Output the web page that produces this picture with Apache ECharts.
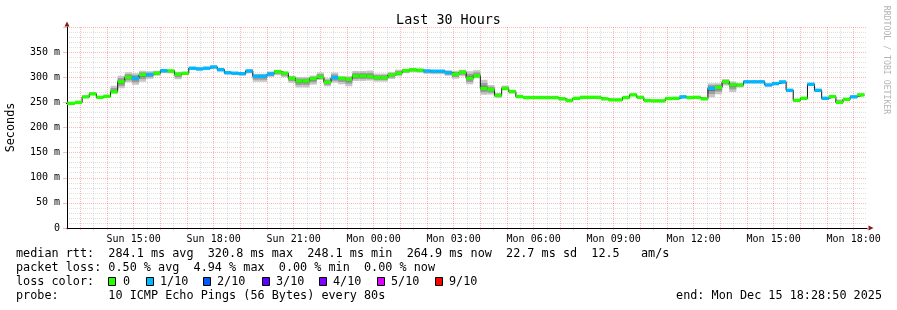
<!DOCTYPE html>
<html><head><meta charset="utf-8">
<script src="https://cdn.jsdelivr.net/npm/echarts@6/dist/echarts.min.js"></script>
<style>html,body{margin:0;padding:0;background:#fff}#c{width:897px;height:310px}</style>
</head><body><div id="c"></div>
<script>
// ---------- data ----------
const chartTitle = 'Last 30 Hours';
const yAxisName = 'Seconds';
const xMinHour = 12.5;   // hours since Sun 00:00 (Sun 12:30)
const xMaxHour = 42.5;   // Mon 18:30
const stepOriginHour = 12;   // RRD steps are 16 min long, aligned to 12:00
const stepMinutes = 16;
const firstStepIndex = 1;

// median RTT (ms) per 16-minute step
const medianMs = [
  248, 248, 250, 261, 267, 260, 262, 271, 291, 300,
  298, 305, 305, 308, 313, 312.6, 306, 308, 318, 316.6,
  318, 320.5, 315, 309, 308, 307, 312.5, 302, 302, 306.6,
  311, 308, 298, 292.7, 292.7, 297.3, 300.7, 290, 299.3, 298,
  296, 302.6, 302.6, 301.3, 299.3, 299.3, 304.6, 308, 313, 315,
  314, 312.6, 312, 312, 309, 306, 310, 298, 303, 278,
  275.5, 264, 277.5, 271.5, 261.5, 259.6, 259.6, 259.6, 259.6, 259.6,
  257, 253.6, 258, 260, 260, 260, 257, 255, 255, 259.6,
  265, 260, 253.6, 253, 253, 257.6, 258, 261, 259.6, 260,
  257, 278, 280, 291.4, 284.7, 284.7, 291, 291, 291, 284.7,
  287.4, 290.7, 274, 254, 258, 286, 274, 258, 261.5, 250,
  256, 261, 264.9
];
// loss colour index per step (0 = no loss, 1 = 1/10)
const lossLevel = [
  0,0,0,0,0,0,0,0,0,0,
  1,0,1,0,1,0,0,0,1,1,
  1,1,1,1,1,1,1,1,1,1,
  0,0,0,0,0,0,0,0,1,0,
  0,0,0,0,0,0,0,0,0,0,
  0,1,1,1,1,0,0,0,0,0,
  0,0,0,0,0,0,0,0,0,0,
  0,0,0,0,0,0,0,0,0,0,
  0,0,0,0,0,0,0,1,0,0,
  0,1,0,0,0,0,1,1,1,1,
  1,1,1,0,0,1,1,1,0,0,
  0,1,0
];
// smoke spread above / below the median (ms)
const smokeUpMs = [
  1.5,1.5,1.5,2,3,2,2,12,12,10,
  10,8,7,5,3,2,5,2,2,2,
  2,2,2,2,2,2,3,5,5,5,
  4,3,5,8,8,6,9,8,10,4,
  6,10,10,12,8,8,6,7,4,3,
  3,2,2,2,5,7,5,14,11,17,
  9,5,6,3,2,1.5,1.5,1.5,1.5,1.5,
  2,2,2,2,2,2,2,2,2,2,
  2,2,3,2,2,2,2,2,2,2,
  2,10,8,5,7,3,1.5,1.5,1.5,2,
  2,2,2,2,2,2,2,3,2,6,
  2,2,2
];
const smokeDownMs = [
  1.5,1.5,1.5,2,2,2,2,3,13,10,
  13,14,8,5,5,5,10,3,3,3,
  2,3,3,3,3,3,5,11,11,6,
  7,8,9,13,13,12,6,8,10,12,
  14,10,10,8,8,8,8,6,5,5,
  5,6,6,6,6,9,8,12,5,13,
  10,5,3,4,2,1.5,1.5,1.5,1.5,1.5,
  2,2,2,2,2,2,2,2,2,2,
  2,2,2,2,2,2,2,2,2,2,
  2,18,14,8,14,5,3,3,3,3,
  3,3,3,2,2,3,3,3,2,2,
  2,2,2
];
const yTickValues = [0, 50, 100, 150, 200, 250, 300, 350];
const lossLabels = ['0', '1/10', '2/10', '3/10', '4/10', '5/10', '9/10'];
const lossColors = ['#26ff00', '#00b8ff', '#0059ff', '#5e00ff', '#7e00ff', '#dd00ff', '#ff0000'];
const rttValues = ['284.1', '320.8', '248.1', '264.9', '22.7', '12.5'];
const rttUnits  = ['ms avg', 'ms max', 'ms min', 'ms now', 'ms sd', '  am/s'];
const lossValues = ['0.50', '4.94', '0.00', '0.00'];
const lossUnits  = ['% avg', '% max', '% min', '% now'];
const probeText = '10 ICMP Echo Pings (56 Bytes) every 80s';
const endText = 'Mon Dec 15 18:28:50 2025';
const watermark = 'RRDTOOL / TOBI OETIKER';

// ---------- chart ----------
const MONO = '"DejaVu Sans Mono", monospace';
const steps = medianMs.map((v, i) => {
  const t0 = stepOriginHour + (firstStepIndex + i) * stepMinutes / 60;
  return [t0, t0 + stepMinutes / 60, v, smokeUpMs[i], smokeDownMs[i], lossLevel[i]];
});
const lineData = steps.map(s => [s[0], s[2]]);
lineData.push([steps[steps.length - 1][1], steps[steps.length - 1][2]]);

function clip(rect, cs) {
  return echarts.graphic.clipRectByRect(rect, {x: cs.x, y: cs.y, width: cs.width, height: cs.height});
}
function smokeLayer(frac, color, z) {
  return {
    type: 'custom', data: steps, encode: {x: [0, 1], y: 2}, silent: true, z: z,
    renderItem(params, api) {
      const v = api.value(2);
      const a = api.coord([api.value(0), v + api.value(3) * frac]);
      const b = api.coord([api.value(1), v - api.value(4) * frac]);
      const shape = clip({x: a[0], y: a[1], width: b[0] - a[0], height: b[1] - a[1]}, params.coordSys);
      return shape ? {type: 'rect', shape: shape, style: {fill: color}} : null;
    }
  };
}
const lossBars = {
  type: 'custom', data: steps, encode: {x: [0, 1], y: 2}, silent: true, z: 6,
  renderItem(params, api) {
    const a = api.coord([api.value(0), api.value(2)]);
    const b = api.coord([api.value(1), api.value(2)]);
    const h = 3.4;
    const shape = clip({x: a[0], y: a[1] - h / 2, width: b[0] - a[0], height: h}, params.coordSys);
    return shape ? {type: 'rect', shape: shape, style: {fill: lossColors[api.value(5)]}} : null;
  }
};

function xLabel(v) {
  const r = Math.round(v);
  if (Math.abs(v - r) > 1e-6 || r % 3 !== 0) return '';
  const day = r < 24 ? 'Sun' : 'Mon';
  const hh = String(r % 24).padStart(2, '0');
  return day + ' ' + hh + ':00';
}
function yLabel(v) {
  if (yTickValues.indexOf(v) < 0) return '';
  return v === 0 ? '0' : v + ' m';
}

const majorGrid = 'rgba(255,0,0,0.28)';
const minorGrid = 'rgba(120,120,120,0.24)';
const arrowColor = '#8b1a1a';

const rttLine = 'median rtt:  ' + rttValues.map((v, i) => v + ' ' + rttUnits[i]).join('  ');
const lossLine = 'packet loss: ' + lossValues.map((v, i) => v + ' ' + lossUnits[i]).join('  ');
const probeLine = 'probe:       ' + probeText;

const textX = 16;
const rowY = [254, 268, 282, 296];
const boxX = [108, 146, 203, 262, 319, 377, 435];
const boxTextX = [123, 160, 217, 276, 333, 391, 449];
const fs = 11.8;
const graphics = [
  {type: 'text', x: textX, y: rowY[0], style: {text: rttLine, fontFamily: MONO, fontSize: fs, fill: '#000', verticalAlign: 'middle'}},
  {type: 'text', x: textX, y: rowY[1], style: {text: lossLine, fontFamily: MONO, fontSize: fs, fill: '#000', verticalAlign: 'middle'}},
  {type: 'text', x: textX, y: rowY[2], style: {text: 'loss color:', fontFamily: MONO, fontSize: fs, fill: '#000', verticalAlign: 'middle'}},
  {type: 'text', x: textX, y: rowY[3], style: {text: probeLine, fontFamily: MONO, fontSize: fs, fill: '#000', verticalAlign: 'middle'}},
  {type: 'text', x: 882, y: rowY[3], style: {text: 'end: ' + endText, fontFamily: MONO, fontSize: fs, fill: '#000', align: 'right', verticalAlign: 'middle'}},
  {type: 'text', x: 886, y: 60, rotation: -Math.PI / 2, style: {text: watermark, fontFamily: MONO, fontSize: 8.2, fill: '#b4b4b4', align: 'center', verticalAlign: 'middle'}}
];
lossLabels.forEach((lab, i) => {
  graphics.push({type: 'rect', shape: {x: boxX[i] + 0.5, y: rowY[2] - 4.5, width: 7, height: 8},
    style: {fill: lossColors[i], stroke: '#000', lineWidth: 1}});
  graphics.push({type: 'text', x: boxTextX[i], y: rowY[2], style: {text: lab, fontFamily: MONO, fontSize: fs, fill: '#000', verticalAlign: 'middle'}});
});

const option = {
  animation: false,
  backgroundColor: '#fff',
  title: {text: chartTitle, left: 'center', top: 14, padding: 0,
    textStyle: {fontFamily: MONO, fontSize: 13.4, fontWeight: 'normal', color: '#000'}},
  grid: {left: 67, right: 30, top: 27, bottom: 82, containLabel: false, outerBoundsMode: 'none'},
  xAxis: [{
    type: 'value', min: xMinHour, max: xMaxHour, interval: 0.5, position: 'bottom',
    axisLine: {show: true, onZero: false, lineStyle: {color: '#000', width: 1}},
    axisTick: {show: true, length: 2, lineStyle: {color: majorGrid}},
    axisLabel: {show: true, interval: 0, formatter: xLabel, fontFamily: MONO, fontSize: 10, color: '#000', margin: 6},
    splitLine: {show: true, showMinLine: false, showMaxLine: false,
      lineStyle: {color: [majorGrid, minorGrid], type: [1, 1], width: 1}}
  }, {
    type: 'value', min: xMinHour, max: xMaxHour, position: 'bottom',
    axisLine: {show: true, onZero: false, symbol: ['none', 'triangle'], symbolSize: [5, 5], symbolOffset: [0, 4],
      lineStyle: {color: arrowColor, width: 0}},
    axisTick: {show: false}, axisLabel: {show: false}, splitLine: {show: false}
  }],
  yAxis: [{
    type: 'value', min: 0, max: 400, interval: 50, position: 'left',
    name: yAxisName, nameLocation: 'middle', nameGap: 50, nameRotate: 90,
    nameTextStyle: {fontFamily: MONO, fontSize: 11.8, color: '#000'},
    axisLine: {show: true, onZero: false, lineStyle: {color: '#000', width: 1}},
    axisTick: {show: true, length: 4, lineStyle: {color: majorGrid}},
    axisLabel: {formatter: yLabel, fontFamily: MONO, fontSize: 10, color: '#000', margin: 7},
    splitLine: {show: true, lineStyle: {color: majorGrid, type: [1, 1], width: 1}},
    minorTick: {show: false, splitNumber: 5},
    minorSplitLine: {show: true, lineStyle: {color: minorGrid, type: [1, 1], width: 1}}
  }, {
    type: 'value', min: 0, max: 400, position: 'left',
    axisLine: {show: true, onZero: false, symbol: ['none', 'triangle'], symbolSize: [5, 5], symbolOffset: [0, 3],
      lineStyle: {color: arrowColor, width: 0}},
    axisTick: {show: false}, axisLabel: {show: false}, splitLine: {show: false}
  }],
  series: [
    smokeLayer(1, '#c6c6c6', 2),
    smokeLayer(0.62, '#9c9c9c', 3),
    smokeLayer(0.3, '#6e6e6e', 4),
    {type: 'line', data: lineData, step: 'end', symbol: 'none', z: 5, silent: true,
      lineStyle: {color: '#111', width: 1}},
    lossBars
  ],
  graphic: graphics
};
const chart = echarts.init(document.getElementById('c'), null, {renderer: 'canvas', width: 897, height: 310});
chart.setOption(option);
</script>
</body></html>
